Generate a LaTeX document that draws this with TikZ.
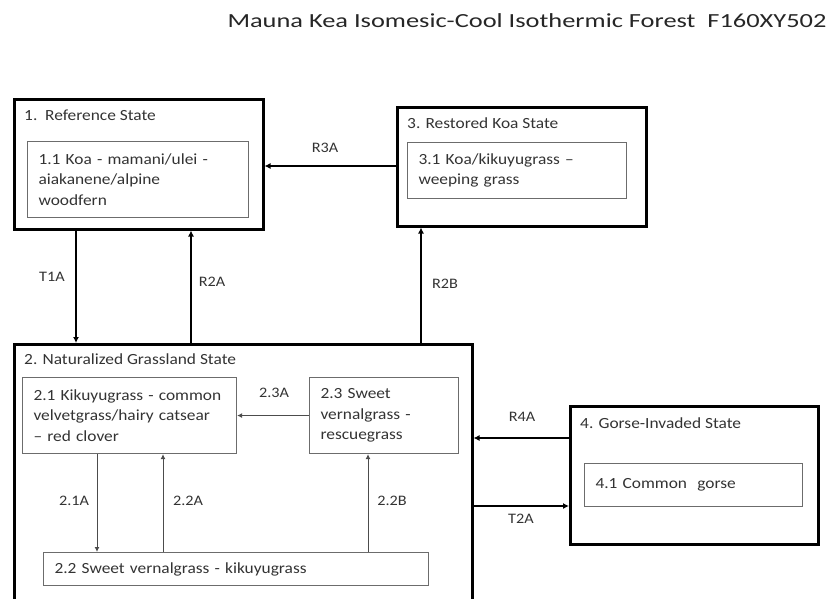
\documentclass[tikz,border=0pt]{standalone}
\usepackage{fontspec}
\setmainfont{Carlito}[FakeStretch=1.12]
\newfontfamily\titlefont{Carlito}[FakeStretch=1.32]
\usetikzlibrary{positioning,arrows.meta}
\definecolor{inkgray}{HTML}{333333}
\tikzset{
  statebox/.style={draw=black, line width=2.5pt, anchor=north west, inner sep=0pt},
  phasebox/.style={draw=gray!85!black, line width=1.1pt, anchor=north west, align=left,
    inner xsep=11pt, inner ysep=0pt, text=inkgray, font=\fontsize{15.5}{20.5}\selectfont},
  statetitle/.style={anchor=west, inner sep=0pt, text=inkgray, font=\fontsize{15.5}{18}\selectfont},
  bigarrow/.style={line width=2.5pt, -{Latex[length=6pt,width=6pt]}},
  smallarrow/.style={line width=1pt, draw=gray!60!black, -{Latex[length=5pt,width=5pt]}},
  lbl/.style={text=inkgray, font=\fontsize{14.5}{16}\selectfont, inner sep=1pt},
}
\begin{document}
\begin{tikzpicture}[x=1pt,y=-1pt]
    \useasboundingbox (0,0) rectangle (835,598);
    \clip (0,0) rectangle (835,598);
    % title
    \node[anchor=base east, text=black!85, font=\titlefont\fontsize{20}{22}\selectfont] (title) at (830,27)
        {Mauna Kea Isomesic-Cool Isothermic Forest\ \ F160XY502};
    % states
    \node[statebox, minimum width=249pt, minimum height=130pt] (ref) at (13,98) {};
    \node[statebox, minimum width=249pt, minimum height=119pt] (rest) at (396,106) {};
    \node[statebox, minimum width=458pt, minimum height=275pt] (nat) at (13,343) {};
    \node[statebox, minimum width=248pt, minimum height=138pt] (gorse) at (569,405) {};
    \node[statetitle] (tref) at ([xshift=11pt,yshift=-17pt]ref.north west) {1.\ \ Reference State};
    \node[statetitle] (trest) at ([xshift=11pt,yshift=-17pt]rest.north west) {3. Restored Koa State};
    \node[statetitle] (tnat) at ([xshift=11pt,yshift=-16pt]nat.north west) {2. Naturalized Grassland State};
    \node[statetitle] (tgorse) at ([xshift=11pt,yshift=-18pt]gorse.north west) {4. Gorse-Invaded State};
    % phases
    \node[phasebox, minimum width=221pt, minimum height=76pt, text width=199pt] (p11) at (27,141)
        {1.1 Koa - mamani/ulei -\\ aiakanene/alpine\\ woodfern};
    \node[phasebox, minimum width=219pt, minimum height=56pt, text width=197pt] (p31) at (407,142)
        {3.1 Koa/kikuyugrass --\\ weeping grass};
    \node[phasebox, minimum width=214pt, minimum height=76pt, text width=192pt] (p21) at (22,377)
        {2.1 Kikuyugrass - common\\ velvetgrass/hairy catsear\\ -- red clover};
    \node[phasebox, minimum width=149pt, minimum height=76pt, text width=127pt] (p23) at (309,377)
        {2.3 Sweet\\ vernalgrass -\\ rescuegrass};
    \node[phasebox, minimum width=385pt, minimum height=33pt, text width=363pt] (p22) at (43,552)
        {2.2 Sweet vernalgrass - kikuyugrass};
    \node[phasebox, minimum width=218pt, minimum height=43pt, text width=196pt] (p41) at (584,463)
        {4.1 Common\ \ gorse};
    % connector positions
    \coordinate (xt1a) at (76,0);
    \coordinate (xr2a) at (191,0);
    \coordinate (xr2b) at (421,0);
    \coordinate (yr3a) at (0,166);
    \coordinate (yr4a) at (0,438);
    \coordinate (yt2a) at (0,506);
    \coordinate (x21a) at (97,0);
    \coordinate (x22a) at (163,0);
    \coordinate (x22b) at (368,0);
    % transitions between states
    \draw[bigarrow] (ref.south -| xt1a) -- (nat.north -| xt1a);
    \draw[bigarrow] (nat.north -| xr2a) -- (ref.south -| xr2a);
    \draw[bigarrow] (nat.north -| xr2b) -- (rest.south -| xr2b);
    \draw[bigarrow] (rest.west |- yr3a) -- (ref.east |- yr3a);
    \draw[bigarrow] (gorse.west |- yr4a) -- (nat.east |- yr4a);
    \draw[bigarrow] (nat.east |- yt2a) -- (gorse.west |- yt2a);
    % pathways within state 2
    \draw[smallarrow] (p23.west) -- (p21.east);
    \draw[smallarrow] (p21.south -| x21a) -- (p22.north -| x21a);
    \draw[smallarrow] (p22.north -| x22a) -- (p21.south -| x22a);
    \draw[smallarrow] (p22.north -| x22b) -- (p23.south -| x22b);
    % labels
    \node[lbl] (lt1a) at (52,277) {T1A};
    \node[lbl] (lr2a) at (212,282) {R2A};
    \node[lbl] (lr2b) at (445,284) {R2B};
    \node[lbl] (lr3a) at (325,148) {R3A};
    \node[lbl] (lr4a) at (522,417) {R4A};
    \node[lbl] (lt2a) at (521,519) {T2A};
    \node[lbl] (l23a) at (274,393) {2.3A};
    \node[lbl] (l21a) at (74,501) {2.1A};
    \node[lbl] (l22a) at (188,501) {2.2A};
    \node[lbl] (l22b) at (392,501) {2.2B};
\end{tikzpicture}
\end{document}
